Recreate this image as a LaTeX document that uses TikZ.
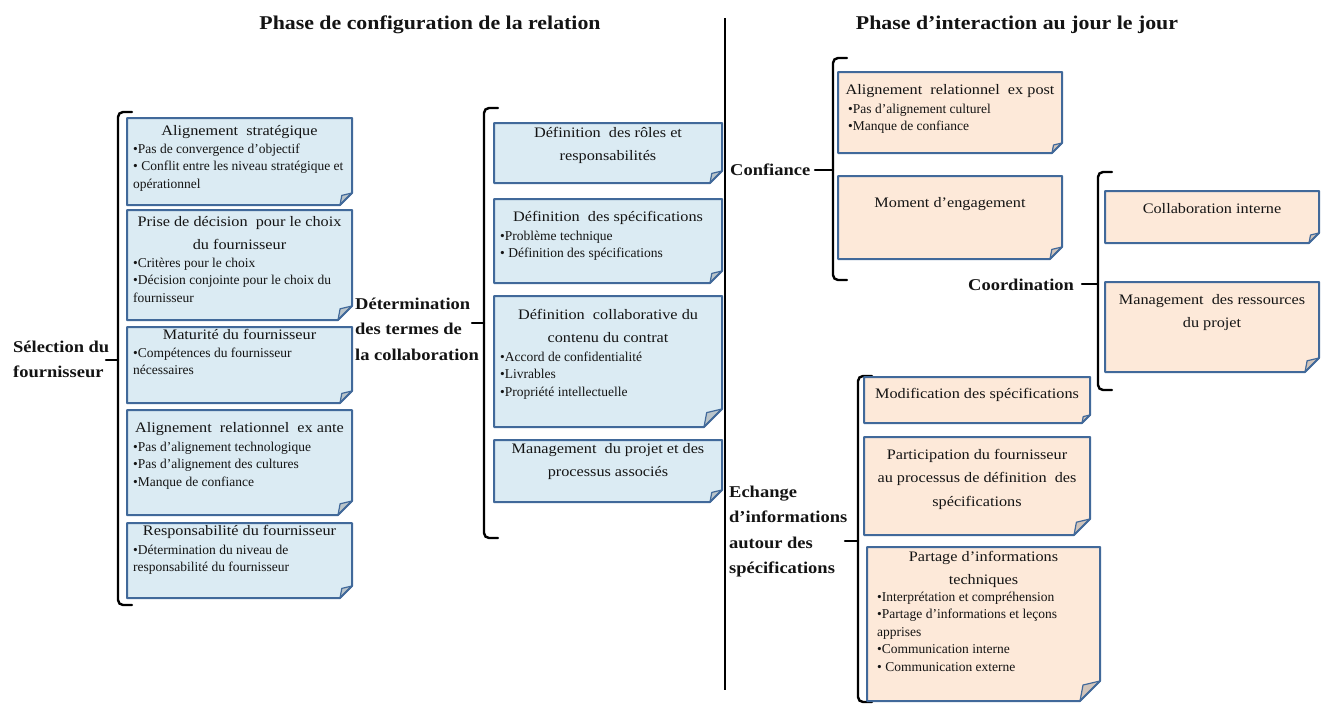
\documentclass[tikz,border=0pt]{standalone}
\usepackage{fontspec}
\setmainfont{Liberation Serif}
\newfontfamily\capfont{Liberation Serif}[FakeStretch=1.12]
\newfontfamily\listfont{Liberation Serif}
\definecolor{boxline}{HTML}{41699A}
\definecolor{bluefill}{HTML}{DBEBF3}
\definecolor{peachfill}{HTML}{FDE9D9}
\definecolor{inktext}{HTML}{141414}

% Note box with a folded bottom-right corner: x1 y1 x2 y2 fill fold
\newcommand\foldnote[6]{%
  \fill[#5] (#1,#2) -- (#3,#2) -- (#3,#4-#6) -- (#3-#6,#4) -- (#1,#4) -- cycle;
  \filldraw[#5!65!gray, draw=boxline, line width=1.2pt, line join=round]
    (#3,#4-#6) -- (#3-0.85*#6,#4-0.8*#6) -- (#3-#6,#4) -- cycle;
  \draw[notebox] (#1,#2) -- (#3,#2) -- (#3,#4-#6) -- (#3-#6,#4) -- (#1,#4) -- cycle;
}

% Text nodes are placed by the baseline of their last line.
\begin{document}
\begin{tikzpicture}[x=1pt,y=-1pt,
  notebox/.style={draw=boxline, line width=2pt, line join=round},
  bracket/.style={line width=2.4pt, rounded corners=5pt, line cap=round},
  boxtitle/.style={font=\capfont\fontsize{14.5}{23.5}\selectfont, align=center,
    anchor=base, inner sep=0pt, text=inktext},
  boxlist/.style={font=\listfont\fontsize{13.5}{17.5}\selectfont, align=left,
    anchor=base west, inner sep=0pt, text=inktext},
  sidelabel/.style={font=\capfont\bfseries\fontsize{16.5}{25.5}\selectfont,
    align=left, anchor=base west, inner sep=0pt, text=inktext},
  heading/.style={font=\capfont\bfseries\fontsize{19.5}{24}\selectfont,
    anchor=base, inner sep=0pt, text=inktext}]
\useasboundingbox (0,0) rectangle (1327,704);
\fill[white] (0,0) rectangle (1327,704);

% ---------- headings and divider ----------
\node[heading] (phaseconf) at (430,29) {Phase de configuration de la relation};
\node[heading] (phaseinter) at (1017,29) {Phase d’interaction au jour le jour};
\coordinate (divtop) at (725,18);
\coordinate (divbot) at (725,690);
\draw[line width=2pt] (divtop) -- (divbot);

% ---------- Sélection du fournisseur ----------
\node[sidelabel] (selection) at (13,377.5) {Sélection du\\fournisseur};
\draw[bracket] (132,112) -- (118,112) -- (118,605) -- (132,605);
\coordinate (selnub) at (106,360);
\coordinate (selbr) at (118,360);
\draw[bracket] (selnub) -- (selbr);

\foldnote{127}{118}{352}{205}{bluefill}{12}
\node[boxtitle] (sel1) at (239.5,135) {Alignement\ \ stratégique};
\node[boxlist] (sel1b) at (133,188) {•Pas de convergence d’objectif\\• Conflit entre les niveau stratégique et\\opérationnel};

\foldnote{127}{210}{352}{320}{bluefill}{14}
\node[boxtitle] (sel2) at (239.5,249.5) {Prise de décision\ \ pour le choix\\du fournisseur};
\node[boxlist] (sel2b) at (133,302) {•Critères pour le choix\\•Décision conjointe pour le choix du\\fournisseur};

\foldnote{127}{327}{352}{403}{bluefill}{12}
\node[boxtitle] (sel3) at (239.5,339) {Maturité du fournisseur};
\node[boxlist] (sel3b) at (133,374.5) {•Compétences du fournisseur\\nécessaires};

\foldnote{127}{410}{352}{515}{bluefill}{14}
\node[boxtitle] (sel4) at (239.5,432) {Alignement\ \ relationnel\ \ ex ante};
\node[boxlist] (sel4b) at (133,486) {•Pas d’alignement technologique\\•Pas d’alignement des cultures\\•Manque de confiance};

\foldnote{127}{523}{352}{598}{bluefill}{12}
\node[boxtitle] (sel5) at (239.5,535) {Responsabilité du fournisseur};
\node[boxlist] (sel5b) at (133,571.5) {•Détermination du niveau de\\responsabilité du fournisseur};

% ---------- Détermination des termes de la collaboration ----------
\node[sidelabel] (termes) at (355,360) {Détermination\\des termes de\\la collaboration};
\draw[bracket] (498,108) -- (484,108) -- (484,538) -- (498,538);
\coordinate (termnub) at (472,323);
\coordinate (termbr) at (484,323);
\draw[bracket] (termnub) -- (termbr);

\foldnote{494}{123}{722}{183}{bluefill}{12}
\node[boxtitle] (ter1) at (608,160.5) {Définition\ \ des rôles et\\responsabilités};

\foldnote{494}{199}{722}{283}{bluefill}{12}
\node[boxtitle] (ter2) at (608,221) {Définition\ \ des spécifications};
\node[boxlist] (ter2b) at (500,257.5) {•Problème technique\\• Définition des spécifications};

\foldnote{494}{296}{722}{427}{bluefill}{18}
\node[boxtitle] (ter3) at (608,342.5) {Définition\ \ collaborative du\\contenu du contrat};
\node[boxlist] (ter3b) at (500,396) {•Accord de confidentialité\\•Livrables\\•Propriété intellectuelle};

\foldnote{494}{440}{722}{502}{bluefill}{12}
\node[boxtitle] (ter4) at (608,476.5) {Management\ \ du projet et des\\processus associés};

% ---------- Confiance ----------
\node[sidelabel] (confiance) at (730,175) {Confiance};
\draw[bracket] (847,58) -- (833,58) -- (833,280) -- (847,280);
\coordinate (confnub) at (815,170);
\coordinate (confbr) at (833,170);
\draw[bracket] (confnub) -- (confbr);

\foldnote{838}{72}{1062}{153}{peachfill}{10}
\node[boxtitle] (con1) at (950,94) {Alignement\ \ relationnel\ \ ex post};
\node[boxlist] (con1b) at (848,130.5) {•Pas d’alignement culturel\\•Manque de confiance};

\foldnote{838}{176}{1062}{259}{peachfill}{12}
\node[boxtitle] (con2) at (950,207) {Moment d’engagement};

% ---------- Coordination ----------
\node[sidelabel] (coordination) at (968,290) {Coordination};
\draw[bracket] (1112,172) -- (1098,172) -- (1098,390) -- (1112,390);
\coordinate (coornub) at (1082,284);
\coordinate (coorbr) at (1098,284);
\draw[bracket] (coornub) -- (coorbr);

\foldnote{1105}{191}{1319}{243}{peachfill}{10}
\node[boxtitle] (coo1) at (1212,213) {Collaboration interne};

\foldnote{1105}{282}{1319}{372}{peachfill}{14}
\node[boxtitle] (coo2) at (1212,327.5) {Management\ \ des ressources\\du projet};

% ---------- Echange d'informations autour des spécifications ----------
\node[sidelabel] (echange) at (729,573.5) {Echange\\d’informations\\autour des\\spécifications};
\draw[bracket] (872,376) -- (858,376) -- (858,702) -- (872,702);
\coordinate (echnub) at (845,541);
\coordinate (echbr) at (858,541);
\draw[bracket] (echnub) -- (echbr);

\foldnote{864}{377}{1090}{423}{peachfill}{8}
\node[boxtitle] (ech1) at (977,398) {Modification des spécifications};

\foldnote{864}{437}{1090}{535}{peachfill}{16}
\node[boxtitle] (ech2) at (977,506) {Participation du fournisseur\\au processus de définition\ \ des\\spécifications};

\foldnote{867}{547}{1100}{701}{peachfill}{20}
\node[boxtitle] (ech3) at (983.5,584.5) {Partage d’informations\\techniques};
\node[boxlist] (ech3b) at (877,671) {•Interprétation et compréhension\\•Partage d’informations et leçons\\apprises\\•Communication interne\\• Communication externe};

\end{tikzpicture}
\end{document}
